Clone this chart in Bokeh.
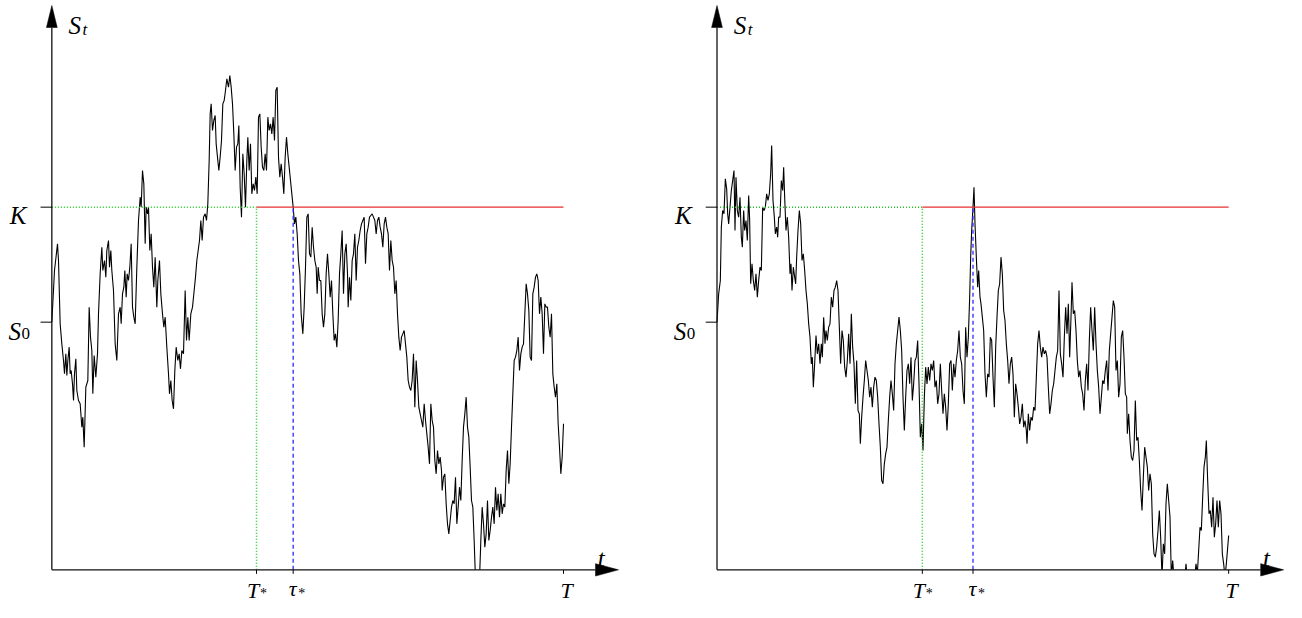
from bokeh.plotting import figure
from bokeh.layouts import row
from bokeh.models import Range1d, Label
from bokeh.embed import file_html
from bokeh.resources import INLINE

# ---------------- data (time 0..T, price level) ----------------
T_END = 1535
S0 = 74.3
K = 108.8

left_t = [0, 8, 17, 20, 25, 30, 35, 38, 42, 45,
          48, 52, 55, 58, 62, 65, 68, 72, 75, 80,
          85, 90, 93, 97, 102, 108, 112, 116, 120, 123,
          127, 132, 137, 140, 145, 150, 153, 158, 162, 165,
          170, 173, 177, 180, 185, 190, 195, 200, 205, 208,
          212, 216, 219, 223, 226, 230, 234, 238, 242, 246,
          250, 255, 260, 265, 268, 272, 276, 280, 283, 287,
          290, 294, 298, 302, 306, 310, 315, 318, 323, 327,
          332, 336, 340, 345, 350, 353, 357, 361, 365, 369,
          373, 378, 382, 386, 390, 395, 400, 404, 408, 412,
          417, 422, 427, 431, 435, 439, 443, 447, 451, 455,
          460, 464, 468, 472, 475, 478, 482, 486, 490, 493,
          497, 501, 505, 509, 513, 517, 521, 525, 530, 534,
          538, 542, 546, 550, 554, 558, 561, 565, 569, 573,
          577, 581, 585, 588, 592, 596, 600, 604, 608, 612,
          616, 620, 624, 628, 632, 636, 640, 644, 648, 652,
          656, 660, 664, 668, 672, 676, 680, 684, 688, 692,
          696, 700, 704, 708, 712, 716, 720, 724, 728, 732,
          736, 740, 744, 748, 753, 757, 761, 765, 769, 773,
          777, 781, 785, 789, 793, 796, 799, 803, 807, 811,
          815, 819, 823, 827, 831, 835, 839, 843, 847, 851,
          855, 859, 863, 867, 871, 875, 879, 883, 887, 889,
          893, 897, 901, 905, 909, 913, 917, 921, 925, 929,
          933, 937, 941, 945, 949, 953, 957, 961, 965, 969,
          973, 977, 981, 985, 989, 993, 997, 1001, 1005, 1009,
          1013, 1017, 1021, 1025, 1029, 1033, 1037, 1041, 1045, 1049,
          1053, 1057, 1061, 1065, 1069, 1073, 1077, 1081, 1085, 1089,
          1093, 1097, 1101, 1105, 1109, 1113, 1117, 1121, 1125, 1129,
          1133, 1137, 1141, 1145, 1149, 1153, 1157, 1161, 1165, 1169,
          1171, 1175, 1179, 1183, 1187, 1191, 1195, 1199, 1203, 1207,
          1211, 1215, 1219, 1223, 1227, 1231, 1235, 1239, 1243, 1247,
          1251, 1255, 1259, 1263, 1267, 1271, 1277, 1283, 1287, 1291,
          1295, 1299, 1303, 1307, 1311, 1315, 1319, 1323, 1327, 1331,
          1335, 1339, 1343, 1347, 1351, 1355, 1359, 1363, 1367, 1371,
          1375, 1379, 1383, 1387, 1391, 1395, 1399, 1403, 1407, 1411,
          1415, 1419, 1423, 1427, 1431, 1435, 1439, 1443, 1447, 1451,
          1455, 1459, 1463, 1467, 1471, 1475, 1479, 1483, 1487, 1491,
          1495, 1499, 1503, 1507, 1511, 1515, 1519, 1523, 1527, 1531,
          1535]
left_s = [74.3, 89.8, 97.8, 92.8, 73.8, 67.8, 62.8, 58.8, 64.8, 58.3,
          62.8, 66.8, 58.8, 59.8, 55.8, 50.8, 58.8, 63.3, 53.8, 50.8,
          49.8, 42.8, 45.8, 36.8, 54.8, 56.8, 78.8, 69.8, 65.8, 52.8,
          64.3, 57.8, 64.8, 76.8, 88.8, 96.8, 89.8, 92.8, 87.8, 95.8,
          98.8, 90.8, 95.8, 89.8, 83.8, 67.8, 62.8, 76.8, 78.8, 73.8,
          82.8, 84.8, 89.8, 81.8, 88.8, 86.8, 90.8, 97.8, 78.8, 75.8,
          73.8, 90.8, 104.8, 111.8, 108.8, 119.8, 115.8, 97.8, 108.8, 106.8,
          108.8, 95.8, 100.8, 90.8, 84.8, 93.8, 78.8, 86.8, 92.8, 82.8,
          76.8, 72.8, 75.8, 66.8, 58.8, 52.8, 56.8, 50.8, 48.3, 59.8,
          66.8, 62.8, 64.8, 60.3, 65.8, 64.8, 83.8, 68.8, 75.8, 68.8,
          76.8, 78.8, 83.8, 87.8, 92.8, 95.8, 98.8, 104.8, 98.8, 105.8,
          106.8, 104.8, 109.8, 122.8, 136.8, 139.8, 131.8, 134.8, 136.3, 127.8,
          123.8, 119.8, 123.8, 128.8, 139.8, 140.8, 143.8, 147.3, 144.8, 148.3,
          144.8, 139.8, 130.8, 119.8, 126.8, 127.8, 133.3, 114.8, 105.8, 124.8,
          118.8, 108.8, 122.8, 129.8, 119.8, 127.8, 112.8, 115.8, 113.8, 117.8,
          112.8, 135.8, 136.8, 126.8, 120.8, 119.8, 124.8, 119.8, 135.8, 131.8,
          133.8, 130.8, 135.8, 128.8, 143.8, 144.8, 123.8, 117.8, 121.8, 117.8,
          112.8, 123.8, 129.8, 124.8, 120.8, 116.8, 112.8, 108.8, 103.8, 105.8,
          100.8, 92.8, 88.8, 76.8, 70.8, 78.8, 90.8, 105.8, 106.8, 94.8,
          93.8, 102.8, 96.8, 92.8, 90.8, 82.8, 90.8, 86.8, 86.8, 76.8,
          72.8, 76.8, 88.8, 94.8, 88.8, 81.8, 86.8, 76.8, 68.8, 70.8,
          66.8, 74.8, 88.8, 94.8, 101.8, 82.8, 94.8, 97.8, 88.8, 78.8,
          87.8, 80.8, 92.8, 94.8, 100.8, 86.8, 96.8, 98.8, 101.8, 103.8,
          104.8, 105.8, 91.8, 100.8, 102.8, 105.8, 106.3, 106.8, 105.8, 104.8,
          100.8, 104.8, 105.8, 102.8, 100.8, 96.8, 103.8, 105.8, 102.8, 100.8,
          89.8, 98.8, 92.8, 90.8, 82.8, 86.8, 76.8, 69.8, 65.8, 69.8,
          70.8, 71.8, 67.8, 63.8, 56.8, 54.8, 53.8, 56.8, 64.8, 48.8,
          62.8, 56.8, 48.8, 46.8, 44.8, 42.8, 49.8, 44.8, 40.8, 36.8,
          31.8, 49.8, 44.8, 42.8, 32.8, 28.8, 35.8, 31.8, 33.8, 29.8,
          23.8, 27.8, 28.8, 19.8, 13.8, 10.8, 14.8, 18.8, 20.8, 19.8,
          27.8, 13.8, 18.8, 24.8, 20.8, 32.8, 42.8, 46.8, 51.8, 42.8,
          39.8, 30.8, 20.8, 18.8, 8.8, -3.0, -5.0, -3.0, 8.8, 18.8,
          13.8, 6.8, 10.8, 20.8, 8.8, 11.8, 15.8, 18.8, 13.8, 24.8,
          17.8, 22.8, 15.8, 22.8, 16.8, 19.8, 18.8, 29.8, 35.8, 25.8,
          31.8, 42.8, 52.8, 62.8, 63.8, 65.8, 69.8, 59.8, 64.8, 66.8,
          67.8, 76.8, 85.8, 82.8, 77.8, 63.8, 62.8, 82.8, 84.8, 87.8,
          88.8, 86.8, 76.8, 81.8, 76.8, 64.8, 79.8, 78.8, 78.8, 72.8,
          69.8, 76.8, 58.8, 54.8, 51.8, 55.8, 43.8, 36.8, 28.8, 33.8,
          43.8]
left_t_star = 614
left_tau = 724

right_t = [0, 5, 10, 13, 17, 21, 25, 29, 32, 35,
           39, 43, 47, 51, 54, 57, 61, 65, 69, 73,
           76, 80, 83, 87, 91, 95, 98, 101, 105, 109,
           113, 117, 121, 125, 129, 133, 137, 141, 145, 149,
           153, 157, 161, 164, 168, 172, 175, 179, 182, 185,
           189, 193, 197, 200, 203, 207, 211, 215, 219, 222,
           225, 229, 233, 236, 239, 243, 247, 251, 255, 259,
           263, 267, 271, 275, 279, 283, 286, 289, 293, 297,
           301, 305, 309, 313, 316, 320, 324, 327, 331, 335,
           339, 343, 347, 351, 355, 359, 363, 367, 371, 375,
           379, 383, 387, 391, 395, 399, 403, 407, 411, 415,
           419, 423, 427, 430, 434, 438, 442, 446, 450, 454,
           458, 462, 466, 470, 474, 478, 482, 486, 490, 494,
           498, 502, 506, 510, 514, 518, 522, 526, 530, 534,
           538, 542, 546, 550, 554, 558, 562, 566, 570, 574,
           578, 582, 586, 590, 594, 598, 602, 606, 610, 614,
           618, 622, 626, 630, 634, 638, 642, 646, 650, 654,
           658, 662, 666, 670, 674, 678, 682, 686, 690, 694,
           698, 702, 706, 710, 714, 718, 722, 726, 730, 734,
           738, 742, 746, 750, 754, 758, 761, 764, 768, 771,
           774, 778, 782, 785, 789, 792, 796, 800, 804, 808,
           812, 816, 820, 824, 828, 832, 836, 840, 844, 848,
           852, 856, 860, 864, 868, 872, 876, 880, 884, 888,
           892, 896, 900, 904, 908, 912, 916, 920, 924, 928,
           930, 934, 938, 942, 946, 950, 954, 958, 962, 966,
           970, 974, 978, 982, 986, 990, 994, 998, 1002, 1006,
           1010, 1014, 1018, 1022, 1026, 1030, 1034, 1038, 1042, 1046,
           1050, 1054, 1058, 1062, 1065, 1069, 1073, 1077, 1081, 1085,
           1089, 1093, 1097, 1101, 1105, 1109, 1113, 1117, 1121, 1125,
           1129, 1133, 1137, 1141, 1145, 1149, 1153, 1157, 1161, 1165,
           1169, 1173, 1177, 1181, 1185, 1189, 1193, 1197, 1201, 1205,
           1209, 1213, 1217, 1221, 1225, 1229, 1231, 1235, 1239, 1243,
           1247, 1251, 1255, 1259, 1263, 1267, 1271, 1275, 1279, 1283,
           1287, 1291, 1295, 1299, 1303, 1307, 1311, 1315, 1319, 1323,
           1327, 1331, 1335, 1339, 1343, 1347, 1351, 1355, 1359, 1363,
           1367, 1371, 1380, 1390, 1400, 1407, 1411, 1420, 1432, 1437,
           1441, 1445, 1449, 1453, 1457, 1461, 1465, 1468, 1472, 1476,
           1480, 1484, 1488, 1492, 1496, 1500, 1504, 1508, 1512, 1516,
           1520, 1524, 1528, 1535]
right_s = [74.3, 82.8, 86.8, 102.8, 107.8, 106.8, 117.3, 114.3, 106.8, 103.8,
           108.8, 113.8, 116.8, 119.8, 101.8, 117.8, 107.8, 105.8, 111.8, 99.8,
           96.8, 107.8, 101.8, 104.8, 98.8, 112.3, 104.8, 85.8, 91.8, 86.8,
           83.8, 88.8, 81.8, 86.8, 90.8, 89.8, 108.8, 107.8, 108.8, 112.8,
           110.8, 112.8, 118.8, 127.3, 110.8, 105.8, 100.8, 102.8, 99.8, 105.8,
           105.8, 116.8, 113.8, 120.8, 111.8, 101.8, 105.8, 99.8, 88.8, 91.8,
           83.8, 90.8, 87.8, 85.8, 93.8, 101.8, 107.8, 103.8, 92.8, 94.8,
           89.8, 83.8, 79.8, 73.8, 69.8, 61.8, 63.8, 54.8, 61.8, 70.3,
           64.8, 67.8, 61.8, 67.8, 63.8, 75.8, 67.8, 71.8, 68.8, 72.8,
           73.8, 81.8, 78.8, 83.8, 84.8, 86.8, 83.8, 72.8, 61.8, 71.8,
           68.8, 60.8, 57.8, 62.8, 70.8, 61.8, 76.8, 66.8, 61.8, 49.8,
           62.8, 47.8, 46.8, 37.8, 45.8, 51.8, 56.8, 62.8, 59.8, 56.8,
           51.8, 54.8, 48.8, 54.8, 57.8, 56.8, 51.8, 43.8, 36.8, 26.8,
           25.8, 31.8, 34.8, 36.8, 44.8, 51.8, 56.8, 52.8, 47.8, 61.8,
           67.8, 71.8, 75.8, 71.8, 65.8, 51.8, 41.8, 51.8, 59.8, 61.8,
           55.8, 63.8, 50.8, 55.8, 62.8, 63.8, 68.8, 55.8, 39.8, 43.8,
           35.8, 51.8, 60.8, 55.8, 60.8, 56.8, 61.8, 59.8, 62.8, 54.8,
           56.8, 49.8, 52.8, 61.8, 53.8, 46.8, 52.8, 48.8, 41.8, 49.8,
           61.8, 62.8, 53.8, 61.8, 57.8, 62.8, 65.8, 71.8, 63.8, 61.8,
           53.8, 49.8, 72.8, 63.8, 69.8, 81.8, 93.8, 101.8, 108.8, 114.8,
           103.8, 93.8, 84.8, 89.8, 81.8, 79.8, 75.8, 71.8, 58.8, 51.8,
           58.8, 57.8, 69.8, 68.8, 57.8, 48.8, 66.8, 75.8, 83.8, 85.8,
           93.8, 88.8, 77.8, 74.8, 67.8, 62.8, 55.8, 61.8, 63.8, 58.8,
           45.8, 55.8, 52.8, 48.8, 43.8, 45.8, 49.8, 42.8, 44.8, 41.8,
           37.8, 46.8, 41.8, 45.8, 44.8, 48.8, 47.8, 57.8, 67.8, 71.8,
           66.8, 63.8, 66.8, 64.8, 65.8, 63.8, 54.8, 46.8, 49.8, 53.8,
           55.8, 59.8, 63.8, 65.8, 83.8, 64.8, 61.8, 57.8, 69.8, 78.8,
           70.8, 79.8, 63.8, 75.8, 86.3, 76.8, 77.8, 71.8, 62.8, 57.8,
           59.8, 54.8, 52.8, 47.8, 56.8, 61.8, 53.8, 68.8, 78.8, 71.8,
           65.8, 78.8, 67.8, 59.8, 54.8, 46.8, 51.8, 56.8, 55.8, 59.8,
           62.8, 53.8, 65.8, 70.8, 75.8, 80.8, 78.8, 59.8, 62.8, 51.8,
           55.8, 69.8, 71.8, 63.8, 52.8, 51.8, 40.8, 46.8, 38.8, 33.8,
           32.8, 35.8, 50.8, 38.8, 39.8, 32.8, 23.8, 17.8, 27.8, 36.8,
           33.8, 30.8, 23.8, 28.8, 25.8, 10.8, 4.8, 3.8, 6.8, 11.8,
           17.8, 9.8, -2.2, 7.8, 4.8, 19.8, 25.8, 20.8, 15.8, -2.2,
           2.8, -2.2, -6.2, -4.2, -6.2, 1.8, -3.2, -6.0, -3.2, 1.8,
           -1.2, 5.8, 12.8, 11.8, 21.8, 30.8, 33.8, 38.8, 26.8, 16.8,
           17.8, 12.8, 21.8, 9.8, 13.8, 20.8, 12.8, 20.8, 16.8, 4.8,
           1.8, -2.2, 1.8, 10.3]
right_t_star = 616
right_tau = 768

y_tick_labels = ["K", "S", "0"]
x_tick_labels = ["T", "\u03c4", "T"]
axis_labels = ["S", "t", "t"]

# ---------------- geometry / style ----------------
PX_T = 3.0      # time units per pixel
PX_S = 0.3      # price units per pixel
H = 602
Y_TOP = 170.8
Y_BOT = Y_TOP - H * PX_S
Y_TIP = 169.3
Y_ARROW_BASE = 162.7
X_TIP = 1700
X_ARROW_BASE = 1631
FONT = "Liberation Serif"
MAIN = "25px"
BOTTOM = "22px"
SUB = "17px"
AST = "14px"


def txt(p, x, y, s, size=MAIN, italic=True, align="left"):
    p.add_layout(Label(x=x, y=y, text=s, text_font=FONT,
                       text_font_style="italic" if italic else "normal",
                       text_font_size=size, text_align=align,
                       text_baseline="alphabetic", text_color="black"))


def panel(width, x_start, ts, ss, t_star, tau):
    x_end = x_start + width * PX_T
    p = figure(width=width, height=H,
               x_range=Range1d(x_start, x_end), y_range=Range1d(Y_BOT, Y_TOP),
               output_backend="svg", toolbar_location=None,
               x_axis_location=None, y_axis_location=None,
               min_border=0, outline_line_color=None,
               background_fill_color="white", border_fill_color="white")
    p.grid.visible = False

    # path
    p.line(ts, ss, line_color="black", line_width=1.1)
    # hide the part of the path below the time axis
    p.quad(left=[x_start], right=[x_end], bottom=[Y_BOT], top=[0],
           fill_color="white", line_color=None)

    # guide lines
    p.line([0, t_star], [K, K], line_color="#22cc22", line_width=1.5, line_dash="1 2")
    p.line([t_star, t_star], [0, K], line_color="#22cc22", line_width=1.5, line_dash="1 2")
    p.line([t_star, T_END], [K, K], line_color="#e83030", line_width=1.2)
    p.line([tau, tau], [0, K], line_color="#2a2aff", line_width=1.3, line_dash="4 3")

    # axes with arrows
    p.line([0, 0], [0, Y_ARROW_BASE], line_color="#111111", line_width=1.3)
    p.line([0, X_ARROW_BASE], [0, 0], line_color="#111111", line_width=1.3)
    p.patch([-5.4 * PX_T, 0, 5.4 * PX_T], [Y_ARROW_BASE, Y_TIP, Y_ARROW_BASE],
            fill_color="black", line_color="black", line_width=0.5)
    p.patch([X_ARROW_BASE, X_TIP, X_ARROW_BASE], [-6.2 * PX_S, 0, 6.2 * PX_S],
            fill_color="black", line_color="black", line_width=0.5)

    # ticks
    p.segment(x0=[-11.3 * PX_T] * 2, y0=[K, S0], x1=[0, 0], y1=[K, S0],
              line_color="black", line_width=1.0)
    xt = [t_star, tau, T_END]
    p.segment(x0=xt, y0=[0] * 3, x1=xt, y1=[-4 * PX_S] * 3,
              line_color="black", line_width=1.0)

    # y tick labels
    txt(p, -25.3 * PX_T, K - 8 * PX_S, y_tick_labels[0], align="right")
    txt(p, -30.8 * PX_T, S0 - 9 * PX_S, y_tick_labels[1], align="right")
    txt(p, -30.3 * PX_T, S0 - 11.5 * PX_S, y_tick_labels[2], size=SUB, italic=False)

    # axis labels
    txt(p, 16.7 * PX_T, Y_TIP - 20 * PX_S, axis_labels[0])
    txt(p, 30.7 * PX_T, Y_TIP - 23.5 * PX_S, axis_labels[1], size=SUB)
    txt(p, 546 * PX_T, 11.5 * PX_S, axis_labels[2])

    # x tick labels (kept clear of the bottom edge)
    txt(p, t_star - 3.5 * PX_T, -20.5 * PX_S, x_tick_labels[0], size=BOTTOM, align="center")
    txt(p, t_star + 3.5 * PX_T, -24 * PX_S, "*", size=AST, italic=False)
    txt(p, tau - 0.5 * PX_T, -19 * PX_S, x_tick_labels[1], size=BOTTOM, align="center")
    txt(p, tau + 5 * PX_T, -24 * PX_S, "*", size=AST, italic=False)
    txt(p, T_END + 3 * PX_T, -20.5 * PX_S, x_tick_labels[2], size=BOTTOM, align="center")
    return p


p_left = panel(650, -154.0, left_t, left_s, left_t_star, left_tau)
p_right = panel(636, -199.5, right_t, right_s, right_t_star, right_tau)

layout = row(p_left, p_right)
open("out.html", "w").write(file_html(layout, INLINE))
